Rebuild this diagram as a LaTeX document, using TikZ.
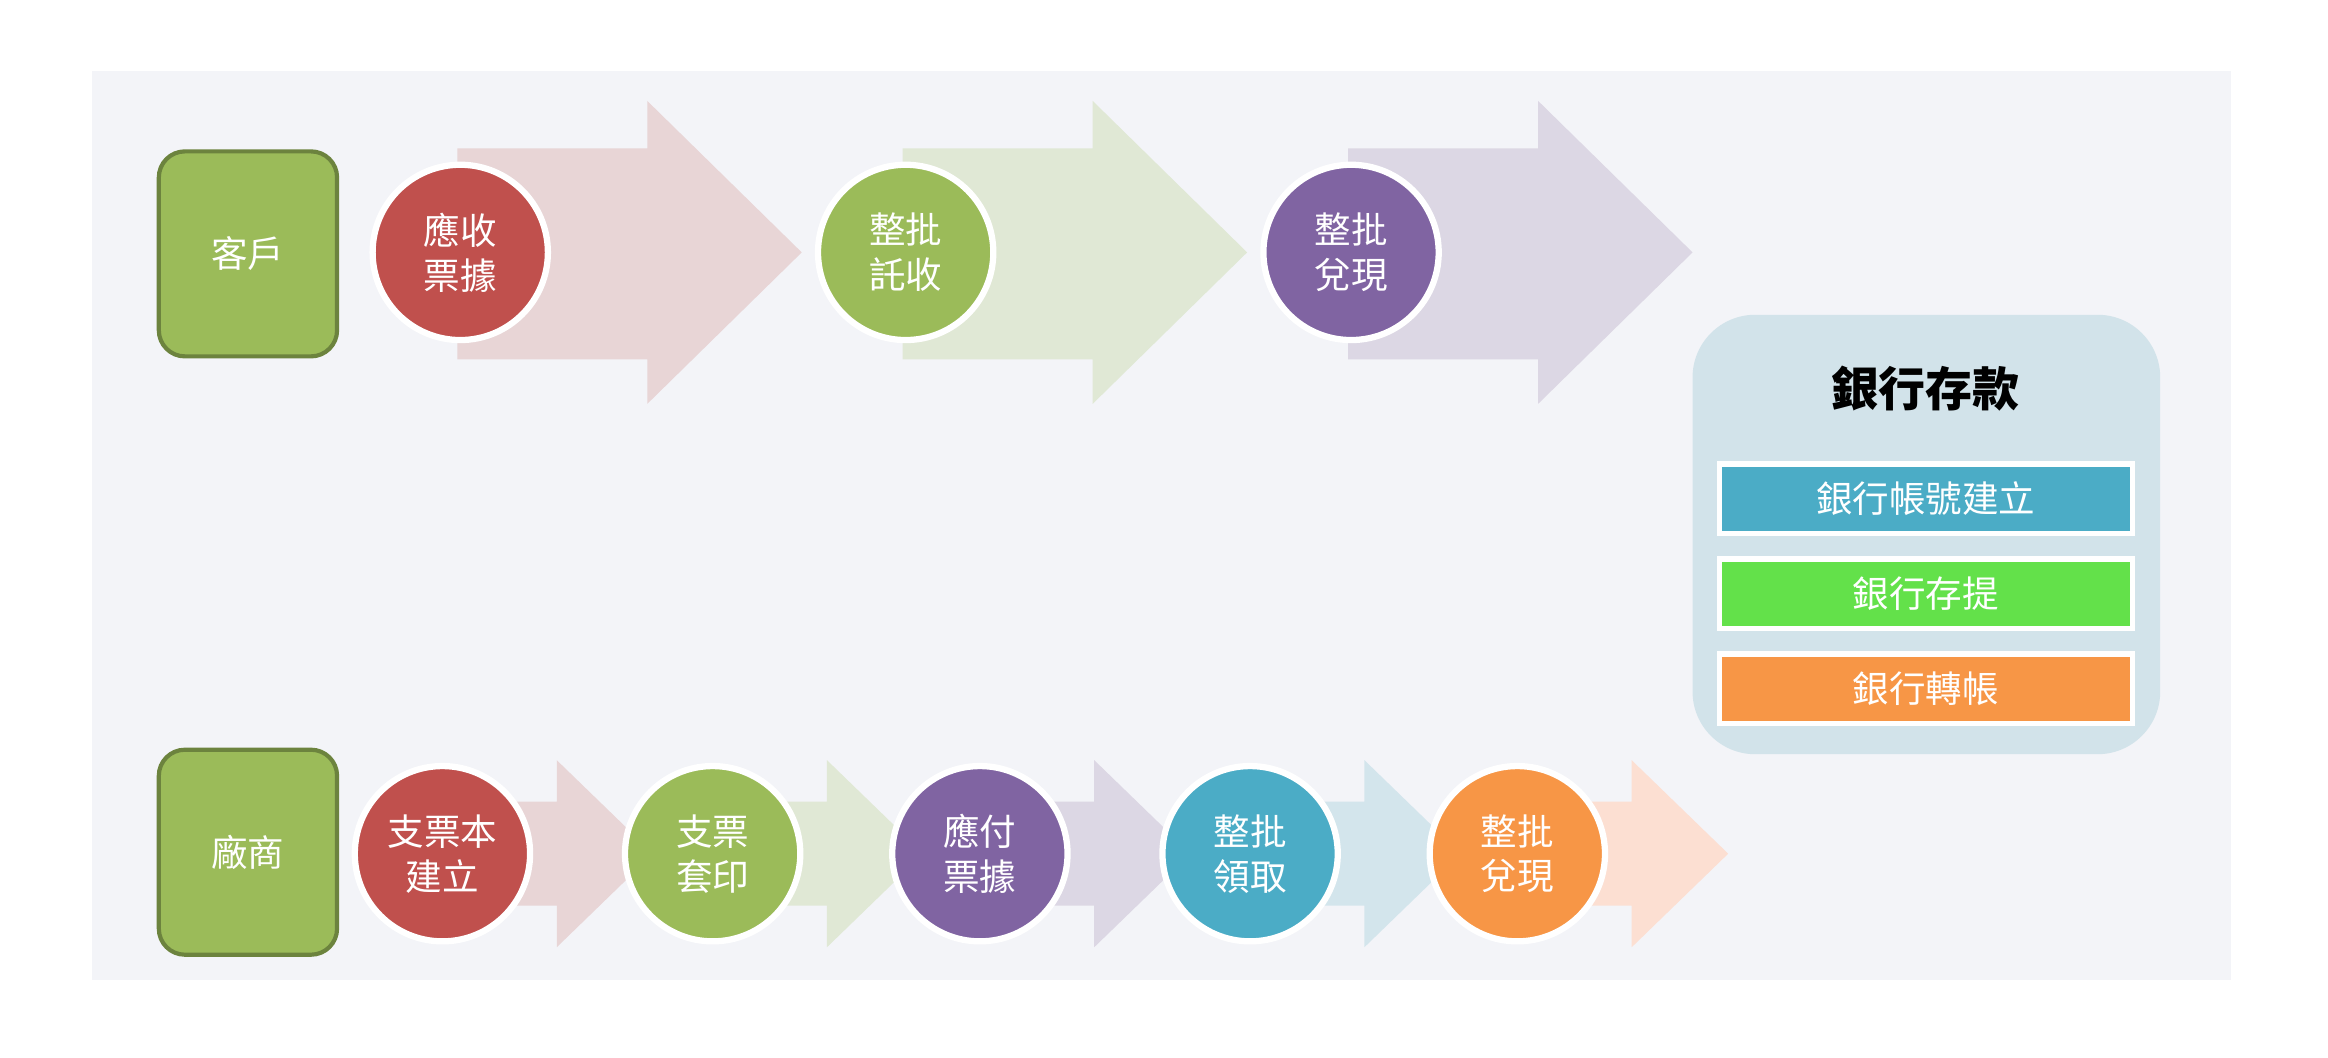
\documentclass[tikz,border=0pt]{standalone}
\usepackage{fontspec}
\newfontfamily\cjk{Noto Sans CJK TC}
\definecolor{bgpanel}{HTML}{F3F4F8}
\definecolor{cred}{HTML}{C0504D}
\definecolor{cgreen}{HTML}{9BBB59}
\definecolor{cpurple}{HTML}{8064A2}
\definecolor{cblue}{HTML}{4BACC6}
\definecolor{corange}{HTML}{F79646}
\definecolor{clime}{HTML}{63E14A}
\definecolor{ared}{HTML}{E8D5D6}
\definecolor{agreen}{HTML}{E0E8D5}
\definecolor{apurple}{HTML}{DCD7E4}
\definecolor{ablue}{HTML}{D3E5EC}
\definecolor{aorange}{HTML}{FCDFD2}
\definecolor{bankbg}{HTML}{D2E3EA}
\tikzset{
  stepdot/.style={circle, draw=white, line width=1.2pt, minimum size=1.18cm, inner sep=0pt,
    text=white, font=\cjk\fontsize{7}{8.6}\selectfont, align=center},
  partybox/.style={rounded corners=5pt, draw=cgreen!70!black, line width=0.8pt, fill=cgreen,
    minimum width=1.2cm, minimum height=1.38cm, text=white, font=\cjk\fontsize{7}{8.6}\selectfont},
  bankbar/.style={draw=white, line width=1pt, minimum width=2.78cm, minimum height=0.47cm,
    inner sep=0pt, text=white, font=\cjk\fontsize{7}{8.6}\selectfont}
}
\begin{document}
\begin{tikzpicture}[x=0.01cm, y=-0.01cm]
    \useasboundingbox (0,0) rectangle (1568,712);
    \fill[bgpanel] (62,48) rectangle (1503,660);

    % Top arrows
    \foreach \x/\c in {308/ared, 608/agreen, 908/apurple}{
        \fill[\c] (\x,100) -- (\x+128,100) -- (\x+128,68) -- (\x+232,170)
            -- (\x+128,272) -- (\x+128,242) -- (\x,242) -- cycle;
    }
    % Bottom arrows
    \foreach \x/\c in {298/ared, 480/agreen, 660/apurple, 842/ablue, 1022/aorange}{
        \fill[\c] (\x,540) -- (\x+77,540) -- (\x+77,512) -- (\x+142,575)
            -- (\x+77,638) -- (\x+77,610) -- (\x,610) -- cycle;
    }

    % Customer row
    \node[partybox] (kehu) at (167,171) {客戶};
    \node[stepdot, fill=cred] (yingshou) at (310,170) {應收\\票據};
    \node[stepdot, fill=cgreen] (tuoshou) at (610,170) {整批\\託收};
    \node[stepdot, fill=cpurple] (duixian1) at (910,170) {整批\\兌現};

    % Vendor row
    \node[partybox] (changshang) at (167,574) {廠商};
    \node[stepdot, fill=cred] (zhipiao) at (298,575) {支票本\\建立};
    \node[stepdot, fill=cgreen] (taoyin) at (480,575) {支票\\套印};
    \node[stepdot, fill=cpurple] (yingfu) at (660,575) {應付\\票據};
    \node[stepdot, fill=cblue] (lingqu) at (842,575) {整批\\領取};
    \node[stepdot, fill=corange] (duixian2) at (1022,575) {整批\\兌現};

    % Bank deposit panel
    \fill[bankbg, rounded corners=12pt] (1140,212) rectangle (1455,508);
    \node[font=\cjk\bfseries\fontsize{9}{11}\selectfont] (bank) at (1297,262) {銀行存款};
    \node[bankbar, fill=cblue] (zhanghao) at (1297,336) {銀行帳號建立};
    \node[bankbar, fill=clime] (cunti) at (1297,400) {銀行存提};
    \node[bankbar, fill=corange] (zhuanzhang) at (1297,464) {銀行轉帳};
\end{tikzpicture}
\end{document}
